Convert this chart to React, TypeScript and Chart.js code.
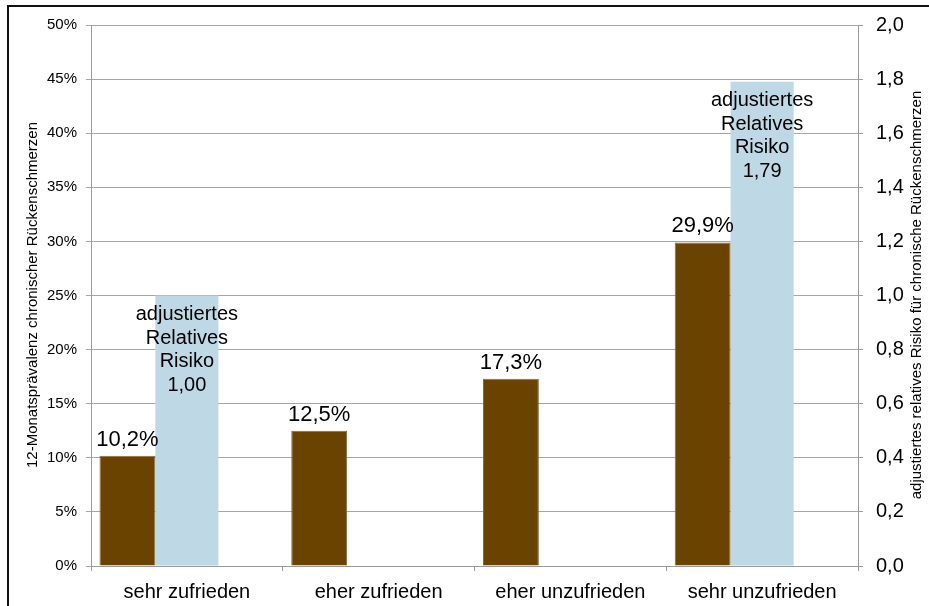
import React, { useEffect, useRef } from "react";
import { Chart, registerables } from "chart.js";

Chart.register(...registerables);

const categories = ["sehr zufrieden", "eher zufrieden", "eher unzufrieden", "sehr unzufrieden"];
const prevalence = [10.2, 12.5, 17.3, 29.9];
const relativeRisk: (number | null)[] = [1.0, null, null, 1.79];
const emptySlot: (number | null)[] = [null, null, null, null];
const riskLabelLines = ["adjustiertes", "Relatives", "Risiko"];
const leftTitle = "12-Monatsprävalenz chronischer Rückenschmerzen";
const rightTitle = "adjustiertes relatives Risiko für chronische Rückenschmerzen";

const FONT = "'Liberation Sans', Arial, sans-serif";
const GRID = "#a6a6a6";
const AXIS = "#9a9a9a";

const fmtPct = (v: number) => v.toFixed(1).replace(".", ",") + "%";
const fmtRR = (v: number) => v.toFixed(2).replace(".", ",");

const decorPlugin = {
  id: "decor",
  beforeDraw(chart: any) {
    const ctx = chart.ctx;
    ctx.save();
    ctx.fillStyle = "#fff";
    ctx.fillRect(0, 0, chart.width, chart.height);
    ctx.fillStyle = "#111";
    ctx.fillRect(7, 5, 2, chart.height);
    ctx.fillRect(7, 5, chart.width, 2);
    ctx.restore();
  },
  afterDatasetsDraw(chart: any) {
    const ctx = chart.ctx;
    ctx.save();
    ctx.fillStyle = "#000";
    ctx.textAlign = "center";
    const m0 = chart.getDatasetMeta(0);
    ctx.font = `22px ${FONT}`;
    ctx.textBaseline = "alphabetic";
    m0.data.forEach((bar: any, i: number) => {
      const v = prevalence[i];
      if (v == null) return;
      ctx.fillText(fmtPct(v), bar.x, bar.y - 10);
    });
    const m1 = chart.getDatasetMeta(1);
    ctx.font = `20px ${FONT}`;
    ctx.textBaseline = "middle";
    m1.data.forEach((bar: any, i: number) => {
      const v = relativeRisk[i];
      if (v == null) return;
      const lines = [...riskLabelLines, fmtRR(v)];
      lines.forEach((t, k) => {
        ctx.fillText(t, bar.x, bar.y + 19 + k * 23.5);
      });
    });
    ctx.restore();
  },
  afterDraw(chart: any) {
    const ctx = chart.ctx;
    ctx.save();
    ctx.fillStyle = "#000";
    ctx.font = `15px ${FONT}`;
    ctx.textAlign = "center";
    ctx.textBaseline = "middle";
    ctx.translate(33, 295);
    ctx.rotate(-Math.PI / 2);
    ctx.fillText(leftTitle, 0, 0);
    ctx.restore();
    ctx.save();
    ctx.fillStyle = "#000";
    ctx.font = `15px ${FONT}`;
    ctx.textAlign = "center";
    ctx.textBaseline = "middle";
    ctx.translate(917, 295);
    ctx.rotate(-Math.PI / 2);
    ctx.fillText(rightTitle, 0, 0);
    ctx.restore();
  },
};

export default function App() {
  const ref = useRef<HTMLCanvasElement | null>(null);
  useEffect(() => {
    if (!ref.current) return;
    const chart = new Chart(ref.current, {
      type: "bar",
      data: {
        labels: categories,
        datasets: [
          {
            label: "Prävalenz",
            data: prevalence,
            yAxisID: "yPct",
            backgroundColor: "#6b4300",
            borderColor: "#8a6a3c",
            borderWidth: 1,
            categoryPercentage: 1.24,
            barPercentage: 0.47,
            grouped: true,
          } as any,
          {
            label: "Relatives Risiko",
            data: relativeRisk,
            yAxisID: "yRR",
            backgroundColor: "#bfd8e6",
            borderWidth: 0,
            barPercentage: 0.329,
            categoryPercentage: 1,
            grouped: false,
          } as any,
          {
            label: "leer",
            data: emptySlot,
            yAxisID: "yPct",
            backgroundColor: "transparent",
            categoryPercentage: 1.24,
            barPercentage: 0.47,
            grouped: true,
          } as any,
        ],
      },
      options: {
        responsive: false,
        animation: false,
        layout: { padding: { top: 25, left: 0, right: 0, bottom: 0 } },
        plugins: { legend: { display: false }, tooltip: { enabled: false } },
        scales: {
          x: {
            offset: true,
            grid: { offset: true, drawOnChartArea: false, drawTicks: true, tickLength: 5, color: AXIS },
            border: { display: true, color: AXIS },
            ticks: { color: "#000", font: { family: FONT, size: 20 }, padding: 9, maxRotation: 0 },
            afterFit: (s: any) => { s.height = 40; },
          },
          yPct: {
            position: "left",
            min: 0,
            max: 50,
            ticks: { stepSize: 5, color: "#000", font: { family: FONT, size: 15 }, padding: 9, callback: (v: any) => `${v}%` },
            grid: { color: GRID, tickLength: 5 },
            border: { display: true, color: AXIS },
            afterFit: (s: any) => { s.width = 91; },
          },
          yRR: {
            position: "right",
            min: 0,
            max: 2,
            ticks: { stepSize: 0.2, color: "#000", font: { family: FONT, size: 20 }, padding: 13, callback: (v: any) => Number(v).toFixed(1).replace(".", ",") },
            grid: { drawOnChartArea: false, color: AXIS, tickLength: 5 },
            border: { display: true, color: AXIS },
            afterFit: (s: any) => { s.width = 71; },
          },
        },
      } as any,
      plugins: [decorPlugin],
    });
    return () => chart.destroy();
  }, []);
  return (
    <div style={{ position: "fixed", left: 0, top: 0, width: 929, height: 606, background: "#fff" }}>
      <canvas ref={ref} width={929} height={606} style={{ display: "block" }} />
    </div>
  );
}
